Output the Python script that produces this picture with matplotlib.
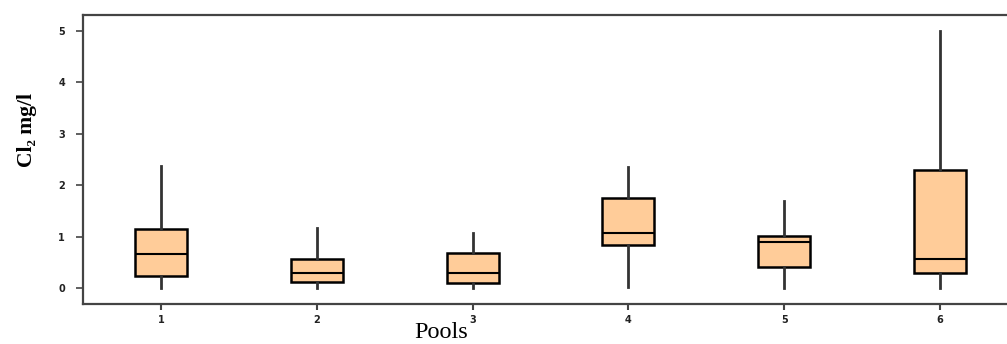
import matplotlib
matplotlib.use("Agg")
import matplotlib.pyplot as plt

# Chlorine concentration summary per pool (mg/l)
pools = ["1", "2", "3", "4", "5", "6"]
whisker_low = [0.0, 0.0, 0.0, 0.03, 0.0, 0.0]
quartile_1 = [0.23, 0.12, 0.10, 0.83, 0.41, 0.29]
median = [0.66, 0.29, 0.29, 1.07, 0.90, 0.57]
quartile_3 = [1.15, 0.57, 0.68, 1.75, 1.01, 2.30]
whisker_high = [2.37, 1.17, 1.07, 2.36, 1.70, 5.00]
y_ticks = [0, 1, 2, 3, 4, 5]

stats = [
    {"label": p, "whislo": lo, "q1": a, "med": m, "q3": b, "whishi": hi, "fliers": []}
    for p, lo, a, m, b, hi in zip(pools, whisker_low, quartile_1, median, quartile_3, whisker_high)
]

fig = plt.figure(figsize=(10.07, 3.44), dpi=100)
ax = fig.add_axes([83 / 1007, 1 - 304 / 344, (1018 - 83) / 1007, 289 / 344])

ax.bxp(
    stats,
    positions=range(1, len(pools) + 1),
    widths=0.333,
    patch_artist=True,
    showcaps=False,
    boxprops=dict(facecolor="#FFCC99", edgecolor="black", linewidth=1.8),
    medianprops=dict(color="black", linewidth=1.5),
    whiskerprops=dict(color="#333333", linewidth=2.0),
)

ax.set_xlim(0.5, 6.5)
ax.set_ylim(-0.31, 5.31)
ax.set_yticks(y_ticks)
ax.set_yticklabels([str(t) for t in y_ticks])

for side in ("left", "top", "bottom", "right"):
    ax.spines[side].set_color("#444444")
    ax.spines[side].set_linewidth(1.6)

ax.tick_params(axis="y", length=5, width=1.2, color="#444444", pad=8,
               labelsize=7, labelcolor="#222222")
ax.tick_params(axis="x", length=4, width=1.5, color="#444444", pad=4,
               labelsize=7, labelcolor="#222222")
for lab in ax.get_xticklabels() + ax.get_yticklabels():
    lab.set_fontweight("bold")

serif = ["Liberation Serif", "DejaVu Serif"]
fig.text(441 / 1007, 0.5 / 344, "Pools", fontsize=17.5, ha="center", va="bottom",
         family=serif)
fig.text(27 / 1007, 1 - 130 / 344, "Cl₂ mg/l", fontsize=15.5, fontweight="bold",
         rotation=90, ha="center", va="center", family=serif)

fig.savefig("out.png", dpi=100)
